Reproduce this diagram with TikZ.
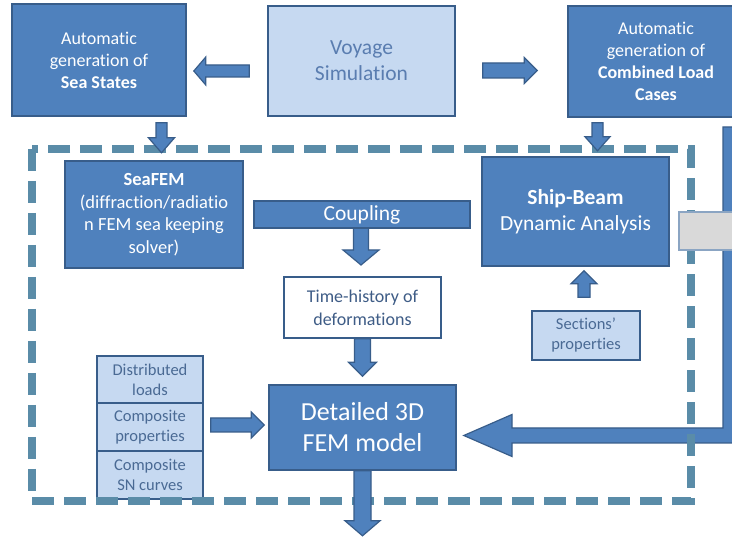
\documentclass[tikz,border=0pt]{standalone}
\usepackage{fontspec}
\setmainfont[Ligatures=NoCommon]{Carlito}
\usetikzlibrary{calc}
\definecolor{fillA}{HTML}{4F81BD}
\definecolor{edgeA}{HTML}{385D8A}
\definecolor{fillL}{HTML}{C6D9F1}
\definecolor{txtL}{HTML}{5A7DB0}
\definecolor{txtS}{HTML}{4A6A94}
\definecolor{txtT}{HTML}{3E5C86}
\definecolor{dashC}{HTML}{5A8CA8}
\definecolor{greyF}{HTML}{D9D9D9}
\definecolor{greyE}{HTML}{8BA5C3}
\tikzset{
  darkbox/.style={rectangle, draw=edgeA, line width=1.6pt, fill=fillA, text=white, align=center, inner sep=0pt},
  lightbox/.style={rectangle, draw=edgeA, line width=1.6pt, fill=fillL, text=txtS, align=center, inner sep=0pt},
  whitebox/.style={rectangle, draw=edgeA, line width=1.6pt, fill=white, text=txtT, align=center, inner sep=0pt},
  greybox/.style={rectangle, draw=greyE, line width=1.6pt, fill=greyF, inner sep=0pt},
  blockst/.style={fill=fillA, draw=edgeA, line width=1.2pt, line join=miter},
  dashframe/.style={draw=dashC, line width=7.5pt, dash pattern=on 22pt off 10pt},
  fA/.style={font=\fontsize{18}{22}\selectfont},
  fB/.style={font=\fontsize{21.5}{26}\selectfont},
  fC/.style={font=\fontsize{16.5}{20}\selectfont},
  fD/.style={font=\fontsize{26}{31}\selectfont},
}
% block arrow: [style] start, end, shaft half width, head half width, head length
\newcommand\barrow[6][]{%
  \coordinate (ba-h) at ($(#3)!#6!(#2)$);
  \draw[blockst,#1] ($(#2)!#4!90:(#3)$) -- ($(ba-h)!#4!90:(#3)$) -- ($(ba-h)!#5!90:(#3)$)
    -- (#3) -- ($(ba-h)!#5!-90:(#3)$) -- ($(ba-h)!#4!-90:(#3)$) -- ($(#2)!#4!-90:(#3)$) -- cycle;
}
\begin{document}
\begin{tikzpicture}[x=1pt,y=-1pt]
\clip (0,0) rectangle (732,537);
\fill[white] (0,0) rectangle (732,537);

% nodes
\node[darkbox, fA, minimum width=174pt, minimum height=112pt] (sea) at (99,60)
  {Automatic\\generation of\\\textbf{Sea States}};
\node[lightbox, fB, text=txtL, minimum width=187pt, minimum height=110pt] (voy) at (361.5,61)
  {Voyage\\Simulation};
\node[darkbox, fA, minimum width=176pt, minimum height=111pt] (comb) at (656,61.5)
  {Automatic\\generation of\\\textbf{Combined Load}\\\textbf{Cases}};
\node[darkbox, fA, font=\fontsize{18.5}{22.5}\selectfont, minimum width=178pt, minimum height=107pt] (seafem) at (154,214.5)
  {\textbf{SeaFEM}\\(diffraction/radiatio\\n FEM sea keeping\\solver)};
\node[darkbox, fB, minimum width=187pt, minimum height=109pt] (ship) at (575.5,211.5)
  {\textbf{Ship-Beam}\\Dynamic Analysis};
\node[whitebox, fA, font=\fontsize{18}{23}\selectfont, minimum width=157pt, minimum height=61pt] (timeh) at (362.5,307.5)
  {Time-history of\\deformations};
\node[lightbox, fC, minimum width=108pt, minimum height=49pt] (sect) at (586,335.5)
  {Sections'\\properties};
\node[darkbox, fD, minimum width=187pt, minimum height=85pt] (fem) at (362.5,427.5)
  {Detailed 3D\\FEM model};
\node[lightbox, fC, minimum width=106pt, minimum height=47pt] (dist) at (150,379.5)
  {Distributed\\loads};
\node[lightbox, fC, minimum width=106pt, minimum height=48pt] (compp) at (150,427)
  {Composite\\properties};
\node[lightbox, fC, minimum width=106pt, minimum height=48pt] (compsn) at (150,475)
  {Composite\\SN curves};

% coupling bar with its arrow
\barrow{$(361,228)$}{$(361,265)$}{7.5pt}{18pt}{15pt}
\node[darkbox, fB, minimum width=216pt, minimum height=27pt] (coup) at (362,214.5) {Coupling};

% L-shaped arrow from the right
\coordinate (lt) at ($(fem.east)+(7,8)$);
\draw[blockst] (723,127) -- (740,127) -- (740,443) -- (512,443) -- (512,456.5)
  -- (lt) -- (512,414.5) -- (512,428) -- (723,428) -- cycle;

% arrows between nodes
\coordinate (a1s) at ($(voy.west)+(-18,10)$);
\coordinate (a1e) at ($(sea.east)+(7,11)$);
\barrow{a1s}{a1e}{6pt}{14pt}{12pt}
\coordinate (a2s) at ($(voy.east)+(27,9.5)$);
\coordinate (a2e) at ($(comb.west)+(-30,9)$);
\barrow{a2s}{a2e}{7.5pt}{13pt}{13pt}
\coordinate (a6s) at (timeh.south);
\coordinate (a6e) at ($(fem.north)+(0,-8)$);
\barrow{a6s}{a6e}{8pt}{14pt}{14pt}
\coordinate (a8s) at ($(compp.east)+(7,-2)$);
\coordinate (a8e) at ($(fem.west)+(-4,-2.5)$);
\barrow{a8s}{a8e}{7pt}{13pt}{13pt}
\coordinate (a9s) at ($(sect.north)+(-2,-13)$);
\coordinate (a9e) at ($(ship.south)+(8.5,4)$);
\barrow{a9s}{a9e}{6pt}{13pt}{13pt}

% dashed frame
\draw[dashframe] (32,149) rectangle (691,501);

% grey box
\node[greybox, minimum width=61pt, minimum height=38pt] (grey) at (709.5,231) {};

% arrows on top of the frame
\coordinate (a3s) at ($(sea.south)+(62.5,6)$);
\coordinate (a3e) at ($(sea.south)+(62.5,36)$);
\barrow{a3s}{a3e}{5.5pt}{13pt}{15pt}
\coordinate (a4s) at ($(comb.south)+(-58.5,5)$);
\coordinate (a4e) at ($(comb.south)+(-58.5,33)$);
\barrow{a4s}{a4e}{5.5pt}{12.5pt}{14pt}
\coordinate (a7s) at (fem.south);
\coordinate (a7e) at ($(fem.south)+(0,65)$);
\barrow{a7s}{a7e}{8.5pt}{17.5pt}{15pt}
\end{tikzpicture}
\end{document}
